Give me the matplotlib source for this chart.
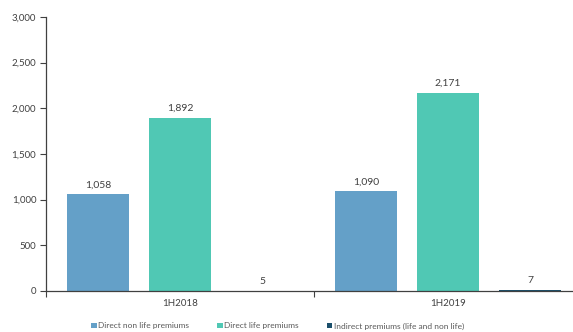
import matplotlib
matplotlib.use("Agg")
import matplotlib.pyplot as plt
import numpy as np

plt.rcParams['font.family'] = ['Lato', 'DejaVu Sans']

periods = ["1H2018", "1H2019"]
series_names = ["Direct non life premiums", "Direct life premiums",
                "Indirect premiums (life and non life)"]
direct_non_life = [1058, 1090]
direct_life = [1892, 2171]
indirect = [5, 7]
colors = ["#64a0c8", "#50c8b4", "#1b4f6b"]

yticks = [0, 500, 1000, 1500, 2000, 2500, 3000]

fig = plt.figure(figsize=(5.73, 3.32), dpi=100)
ax = fig.add_axes([46 / 573, 41 / 332, 536 / 573, 274 / 332])

x = np.arange(len(periods))
width = 0.235
offset = 0.306
text_col = "#404040"

for i, (vals, name) in enumerate(zip([direct_non_life, direct_life, indirect], series_names)):
    pos = x + (i - 1) * offset
    bars = ax.bar(pos, vals, width, color=colors[i], label=name, zorder=2)
    for b, v in zip(bars, vals):
        ax.text(b.get_x() + b.get_width() / 2, v + 55, f"{v:,}",
                ha="center", va="bottom", fontsize=7.5, color=text_col)

ax.set_xlim(-0.5, 1.5)
ax.set_ylim(0, 3000)
ax.set_yticks(yticks)
ax.set_yticklabels([f"{t:,}" for t in yticks], fontsize=7, color=text_col)
ax.set_xticks(x)
ax.set_xticklabels(periods, fontsize=7, color=text_col)
ax.tick_params(axis="x", length=0, pad=6)
ax.set_xticks([-0.5, 0.5, 1.5], minor=True)
ax.tick_params(axis="x", which="minor", length=4, color=text_col, width=0.8)
ax.tick_params(axis="y", length=4, color=text_col, width=0.8, pad=3)

for s in ["top", "right"]:
    ax.spines[s].set_visible(False)
for s in ["left", "bottom"]:
    ax.spines[s].set_color(text_col)
    ax.spines[s].set_linewidth(0.9)

fig.legend(loc="center left", bbox_to_anchor=(86 / 573, 1 - 326 / 332), ncol=3,
           frameon=False, fontsize=6, handlelength=0.7, handleheight=0.7,
           handletextpad=0.2, columnspacing=3.3, labelcolor="#595959",
           borderpad=0.1)

fig.savefig("out.png", dpi=100)
